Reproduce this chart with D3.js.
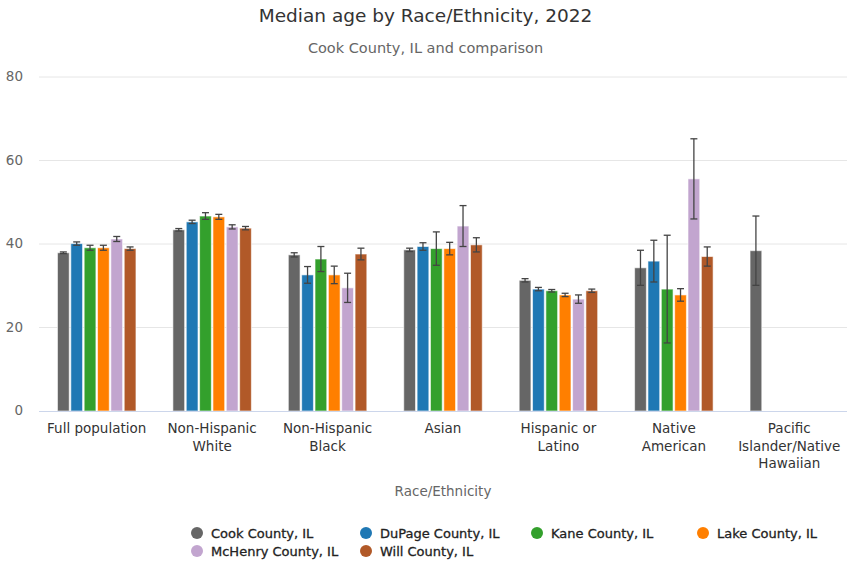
<!DOCTYPE html>
<html>
<head>
<meta charset="utf-8">
<script src="https://cdn.jsdelivr.net/npm/d3@7"></script>
<style>
  body { margin: 0; background: #fff; }
  text { font-family: "DejaVu Sans", Verdana, sans-serif; }
</style>
</head>
<body>
<div id="chart"></div>
<script>
const categories = ['Full population', 'Non-Hispanic White', 'Non-Hispanic Black', 'Asian',
  'Hispanic or Latino', 'Native American', 'Pacific Islander/Native Hawaiian'];
const categoryLines = [['Full population'], ['Non-Hispanic', 'White'], ['Non-Hispanic', 'Black'], ['Asian'],
  ['Hispanic or', 'Latino'], ['Native', 'American'], ['Pacific', 'Islander/Native', 'Hawaiian']];
const seriesNames = ['Cook County, IL', 'DuPage County, IL', 'Kane County, IL',
  'Lake County, IL', 'McHenry County, IL', 'Will County, IL'];
const colors = ['#666666', '#1f78b4', '#33a02c', '#ff7f00', '#c2a5cf', '#b15928'];

// median age, one array per county, in category order
const cook    = [37.9, 43.4, 37.4, 38.6, 31.3, 34.3, 38.4];
const dupage  = [40.1, 45.3, 32.6, 39.4, 29.2, 35.9, null];
const kane    = [39.1, 46.7, 36.4, 38.9, 28.8, 29.2, null];
const lake    = [39.1, 46.5, 32.6, 38.9, 27.8, 27.8, null];
const mchenry = [41.2, 44.1, 29.5, 44.3, 26.8, 55.6, null];
const will    = [38.9, 43.8, 37.6, 39.8, 28.8, 37.0, null];

// margin of error (+/-)
const cookErr    = [0.2, 0.3, 0.5, 0.4, 0.4, 4.2, 8.3];
const dupageErr  = [0.4, 0.4, 2.0, 0.9, 0.4, 5.0, null];
const kaneErr    = [0.6, 0.8, 3.0, 4.0, 0.3, 12.9, null];
const lakeErr    = [0.6, 0.6, 2.1, 1.5, 0.4, 1.5, null];
const mchenryErr = [0.6, 0.5, 3.5, 4.9, 1.0, 9.6, null];
const willErr    = [0.4, 0.4, 1.4, 1.7, 0.4, 2.3, null];

const yTicks = [0, 20, 40, 60, 80];

const values = [cook, dupage, kane, lake, mchenry, will];
const errors = [cookErr, dupageErr, kaneErr, lakeErr, mchenryErr, willErr];

const width = 851;
const height = 565;
const plotLeft = 39, plotRight = 847, plotTop = 77, plotBottom = 411;

const svg = d3.select('#chart').append('svg')
  .attr('width', width)
  .attr('height', height);

svg.append('text')
  .attr('x', width / 2).attr('y', 22)
  .attr('text-anchor', 'middle')
  .attr('fill', '#333').style('font-size', '18.5px')
  .text('Median age by Race/Ethnicity, 2022');

svg.append('text')
  .attr('x', width / 2).attr('y', 53)
  .attr('text-anchor', 'middle')
  .attr('fill', '#666').style('font-size', '14.5px')
  .text('Cook County, IL and comparison');

const x0 = d3.scaleBand().domain(categories).range([plotLeft, plotRight]);
const x1 = d3.scaleBand().domain(seriesNames)
  .range([x0.bandwidth() * 0.16, x0.bandwidth() * 0.84])
  .paddingInner(0.12);
const y = d3.scaleLinear().domain([0, 80]).range([plotBottom, plotTop]);

// grid
svg.append('g').selectAll('line')
  .data(yTicks.filter(d => d > 0))
  .enter().append('line')
  .attr('x1', plotLeft).attr('x2', plotRight)
  .attr('y1', d => y(d)).attr('y2', d => y(d))
  .attr('stroke', '#e6e6e6');

svg.append('g').selectAll('text')
  .data(yTicks)
  .enter().append('text')
  .attr('x', 23).attr('y', d => y(d) + 4)
  .attr('text-anchor', 'end')
  .attr('fill', '#666').style('font-size', '13.5px')
  .text(d => d);

// bars
const rows = [];
categories.forEach((c, i) => {
  seriesNames.forEach((s, j) => {
    if (values[j][i] != null) rows.push({ c, s, j, v: values[j][i], e: errors[j][i] });
  });
});

const bars = svg.append('g');
bars.selectAll('rect')
  .data(rows)
  .enter().append('rect')
  .attr('x', d => x0(d.c) + x1(d.s))
  .attr('y', d => y(d.v))
  .attr('width', x1.bandwidth())
  .attr('height', d => plotBottom - y(d.v))
  .attr('fill', d => colors[d.j])
  .attr('stroke', '#fff')
  .attr('stroke-opacity', 0.6);

// error bars
const eg = svg.append('g').attr('stroke', '#444').attr('stroke-width', 1.3);
rows.forEach(d => {
  const cx = x0(d.c) + x1(d.s) + x1.bandwidth() / 2;
  const y1 = y(d.v + d.e), y2 = y(d.v - d.e);
  eg.append('line').attr('x1', cx).attr('x2', cx).attr('y1', y1).attr('y2', y2);
  eg.append('line').attr('x1', cx - 3.5).attr('x2', cx + 3.5).attr('y1', y1).attr('y2', y1);
  eg.append('line').attr('x1', cx - 3.5).attr('x2', cx + 3.5).attr('y1', y2).attr('y2', y2);
});

// x axis line
svg.append('line')
  .attr('x1', plotLeft).attr('x2', plotRight)
  .attr('y1', plotBottom + 0.5).attr('y2', plotBottom + 0.5)
  .attr('stroke', '#ccd6eb');

const xl = svg.append('g').selectAll('text')
  .data(categories)
  .enter().append('text')
  .attr('x', d => x0(d) + x0.bandwidth() / 2)
  .attr('y', 433)
  .attr('text-anchor', 'middle')
  .attr('fill', '#333').style('font-size', '13.5px');
xl.each(function (d, i) {
  const t = d3.select(this);
  categoryLines[i].forEach((line, k) => {
    t.append('tspan').attr('x', x0(d) + x0.bandwidth() / 2).attr('dy', k === 0 ? 0 : 17.5).text(line);
  });
});

svg.append('text')
  .attr('x', (plotLeft + plotRight) / 2).attr('y', 496)
  .attr('text-anchor', 'middle')
  .attr('fill', '#666').style('font-size', '13.5px')
  .text('Race/Ethnicity');

// legend
const legendCols = [197, 366, 537, 703];
const legend = svg.append('g');
seriesNames.forEach((s, j) => {
  const lx = legendCols[j % 4];
  const ly = 533 + Math.floor(j / 4) * 18;
  legend.append('circle').attr('cx', lx).attr('cy', ly).attr('r', 6).attr('fill', colors[j]);
  legend.append('text')
    .attr('x', lx + 14).attr('y', ly + 5)
    .attr('fill', '#222').style('font-size', '13px')
    .style('stroke', '#222').style('stroke-width', 0.3)
    .text(s);
});
</script>
</body>
</html>
